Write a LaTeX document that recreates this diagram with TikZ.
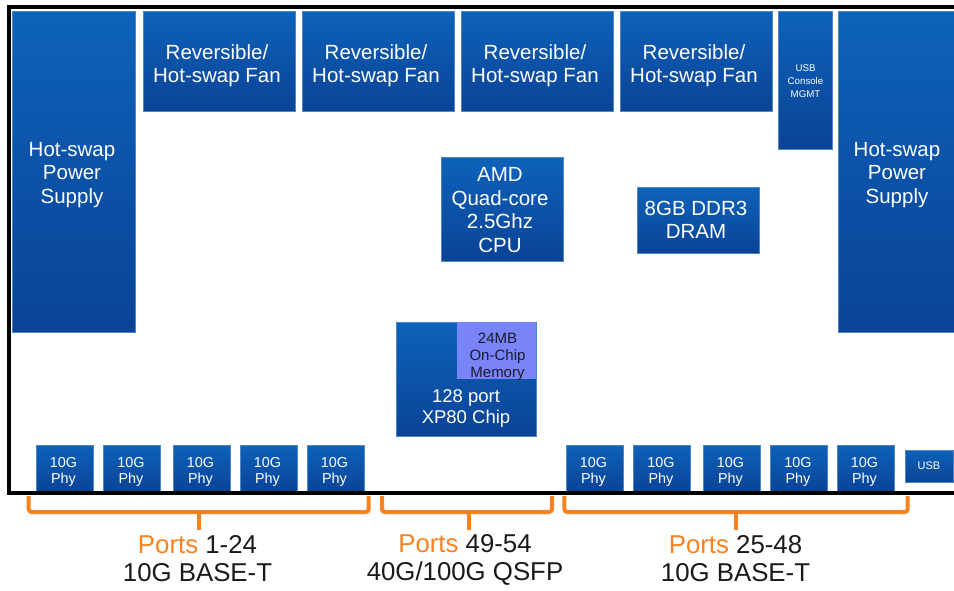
\documentclass[tikz,border=0pt]{standalone}
\usepackage{fontspec}
\setmainfont{Liberation Sans}
\definecolor{boxtop}{HTML}{0D62BA}
\definecolor{boxbot}{HTML}{0A4396}
\definecolor{boxedge}{HTML}{4F86C8}
\definecolor{memblue}{HTML}{7884F8}
\definecolor{memtext}{HTML}{1B1B2A}
\definecolor{portorange}{HTML}{F7821F}
\definecolor{labelgray}{HTML}{1A1A1A}
\newcommand{\boxfont}[2]{\fontsize{#1}{#2}\selectfont}

\begin{document}
\begin{tikzpicture}[x=1pt,y=1pt]
    \tikzstyle{every node}+=[inner sep=0pt, align=center]
    \tikzstyle{blk}=[top color=boxtop, bottom color=boxbot, draw=boxedge, line width=0.8]
    \tikzstyle{bigtxt}=[text=white, font=\boxfont{20.5}{23.5}]
    \tikzstyle{phybox}=[blk, minimum width=57, minimum height=47]
    \tikzstyle{phytxt}=[text=white, font=\boxfont{14.4}{16.5}]
    \tikzstyle{brk}=[portorange, line width=4, rounded corners=3]
    \tikzstyle{porttxt}=[text=labelgray, font=\boxfont{25.8}{28}]
    \clip (0,0) rectangle (954,-590);
    \fill [white] (0,0) rectangle (954,-590);
    % power supplies
    \node [blk, minimum width=123, minimum height=321] (psuL) at (73.5,-171.5) {};
    \node [bigtxt] (psuLtxt) at (72,-175) {Hot-swap\\Power\\Supply};
    \node [blk, minimum width=119, minimum height=321] (psuR) at (897.5,-171.5) {};
    \node [bigtxt] (psuRtxt) at (897,-175) {Hot-swap\\Power\\Supply};
    % fans
    \foreach \x [count=\i] in {219,378,537,696} {
        \node [blk, minimum width=152, minimum height=100] (fan\i) at (\x,-61) {};
        \node [bigtxt] (fan\i txt) at (\x-2,-65.8) {Reversible/\\Hot-swap Fan};
    }
    \node [blk, minimum width=54, minimum height=138] (mgmt) at (805,-80) {};
    \node [text=white, font=\boxfont{9.7}{13}] (mgmttxt) at (805.5,-81) {USB\\Console\\MGMT};
    % cpu and memory
    \node [blk, minimum width=122, minimum height=104] (cpu) at (502,-209) {};
    \node [bigtxt] (cputxt) at (500,-210.2) {AMD\\Quad-core\\2.5Ghz\\CPU};
    \node [blk, minimum width=122, minimum height=66] (dram) at (698,-220) {};
    \node [bigtxt] (dramtxt) at (696,-219.7) {8GB DDR3\\DRAM};
    % switch chip
    \node [blk, minimum width=140, minimum height=114] (chip) at (466,-379) {};
    \node [fill=memblue, minimum width=79, minimum height=57] (sram) at (496.5,-350.5) {};
    \node [text=memtext, font=\boxfont{15}{17}] (sramtxt) at (497.5,-356.6) {24MB\\On-Chip\\Memory};
    \node [text=white, font=\boxfont{18.5}{21}] (chiptxt) at (466,-408.5) {128 port\\XP80 Chip};
    % phys
    \foreach \x [count=\i] in {64.5,132,201.5,268.5,335.5} {
        \node [phybox] (phyL\i) at (\x,-468.5) {};
        \node [phytxt] (phyL\i txt) at (\x-1,-471.8) {10G\\Phy};
    }
    \foreach \x [count=\i] in {594.5,662,731.5,799,865.5} {
        \node [phybox] (phyR\i) at (\x,-468.5) {};
        \node [phytxt] (phyR\i txt) at (\x-1,-471.8) {10G\\Phy};
    }
    \node [blk, minimum width=48, minimum height=32] (usb) at (929,-466) {};
    \node [text=white, font=\boxfont{11}{13}] (usbtxt) at (929,-466) {USB};
    % chassis
    \draw [black, line width=3.8] (9.2,-6.7) rectangle (990,-493);
    % port groups
    \coordinate (brkL) at (198.7,-512);
    \coordinate (brkM) at (468.7,-512);
    \coordinate (brkR) at (736.3,-512);
    \draw [brk] (28.7,-496) |- (368.7,-512) -- (368.7,-496);
    \draw [brk] (382,-496) |- (552,-512) -- (552,-496);
    \draw [brk] (564.3,-496) |- (907.7,-512) -- (907.7,-496);
    \draw [portorange, line width=4] (brkL) -- ++(0,-18);
    \draw [portorange, line width=4] (brkM) -- ++(0,-18);
    \draw [portorange, line width=4] (brkR) -- ++(0,-18);
    \node [porttxt] (portsL) at (197.5,-559) {{\color{portorange}Ports} 1-24\\10G BASE-T};
    \node [porttxt] (portsM) at (465,-559.5) {{\color{portorange}Ports} 49-54\\40G/100G QSFP};
    \node [porttxt] (portsR) at (735.5,-559) {{\color{portorange}Ports} 25-48\\10G BASE-T};
\end{tikzpicture}
\end{document}
